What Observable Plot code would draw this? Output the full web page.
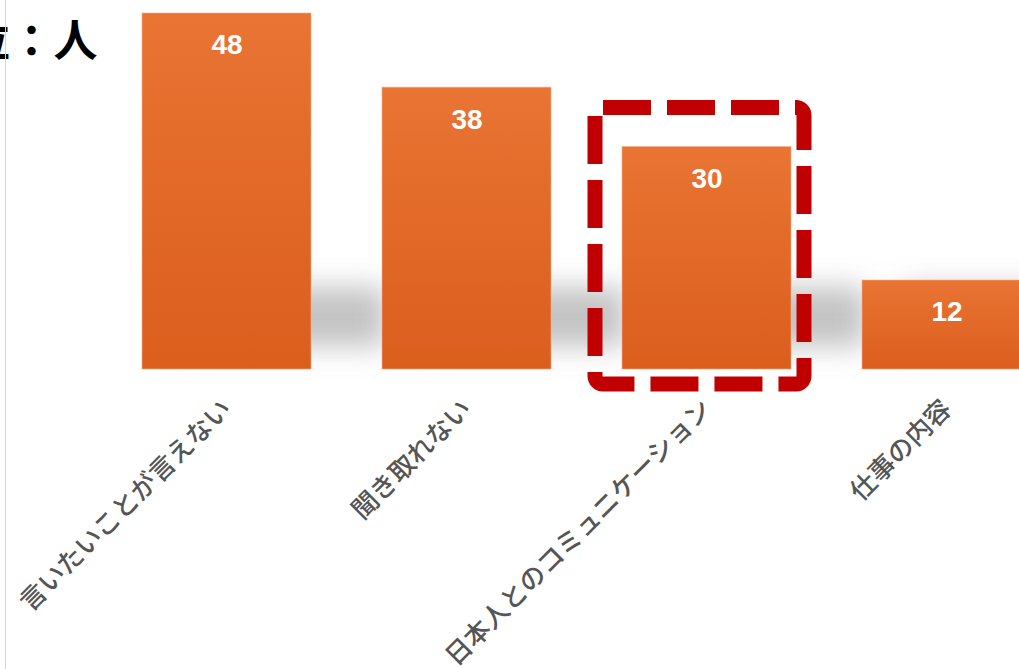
<!DOCTYPE html>
<html><head><meta charset="utf-8">
<script src="https://cdn.jsdelivr.net/npm/d3@7"></script>
<script src="https://cdn.jsdelivr.net/npm/@observablehq/plot@0.6"></script>
<style>
html,body{margin:0;padding:0;overflow:hidden;background:#fff;}
#chart{position:relative;width:1019px;height:669px;overflow:hidden;}
#chart::after{content:"";position:absolute;left:5px;top:0;bottom:0;width:1px;background:#d2d2d2;}
#chart svg{display:block;background:linear-gradient(to bottom,#fafafa 0%,#f2f2f2 25%,#e6e6e6 45%,#d9d9d9 58%,#e3e3e3 68%,#f2f2f2 82%,#fdfdfd 100%);}
</style></head>
<body><div id="chart"></div>
<script>
const categories = ["言いたいことが言えない", "聞き取れない", "日本人とのコミュニケーション", "仕事の内容"];
const values = [48, 38, 30, 12];
const highlight = "日本人とのコミュニケーション";
const unitLabel = "単位：人";

const data = categories.map((c, i) => ({cat: c, value: values[i]}));

const chart = Plot.plot({
  width: 1019,
  height: 669,
  marginTop: 0, marginLeft: 0, marginRight: 0, marginBottom: 0,
  style: {background: "transparent", overflow: "hidden"},
  x: {domain: categories, range: [70.2, 1103.8], padding: 0.294, axis: null},
  y: {domain: [0, 48], range: [369, 13], axis: null},
  marks: [
    Plot.rect(data, {x: "cat", y1: () => 0, y2: () => 0, insetTop: -82, insetBottom: 22, insetLeft: 40, insetRight: -75, fill: "#8a8a8a", fillOpacity: 0.5}),
    Plot.barY(data, {x: "cat", y: "value", fill: "url(#barGrad)", stroke: "#f2b08c", strokeWidth: 1, strokeOpacity: 0.6}),
    Plot.text(data, {x: "cat", y: "value", text: d => String(d.value), dy: 32, fill: "white", fontSize: 28, fontWeight: "bold", fontFamily: "Liberation Sans, Arial, sans-serif"}),
    Plot.barY(data.filter(d => d.cat === highlight), {x: "cat", y: "value", fill: "none", stroke: "#c00000", strokeWidth: 15, strokeDasharray: "48,16", rx: 8, insetTop: -39, insetBottom: -15, insetLeft: -27, insetRight: -13}),
    Plot.text(data, {x: "cat", y: () => 0, text: "cat", rotate: -45, textAnchor: "end", lineAnchor: "bottom", dx: 6, dy: 41, fill: "#555555", fontSize: 26, fontWeight: 500, fontFamily: "Noto Sans CJK JP, sans-serif"}),
    Plot.text([unitLabel], {frameAnchor: "top-left", text: d => d, textAnchor: "end", lineAnchor: "middle", dx: 97, dy: 42, fill: "black", fontSize: 44, fontWeight: "bold", fontFamily: "Noto Sans CJK JP, sans-serif"})
  ]
});

const svg = d3.select(chart);
const defs = svg.insert("defs", ":first-child");
const g = defs.append("linearGradient").attr("id", "barGrad").attr("x1", 0).attr("y1", 0).attr("x2", 0).attr("y2", 1);
g.append("stop").attr("offset", "0%").attr("stop-color", "#e97433");
g.append("stop").attr("offset", "100%").attr("stop-color", "#db5e1d");
const f = defs.append("filter").attr("id", "blur").attr("filterUnits", "userSpaceOnUse").attr("x", 0).attr("y", 0).attr("width", 1019).attr("height", 669);
f.append("feGaussianBlur").attr("stdDeviation", 14);
svg.selectAll('g[aria-label="rect"]').attr("filter", "url(#blur)");

document.getElementById("chart").appendChild(chart);
</script>
</body></html>
